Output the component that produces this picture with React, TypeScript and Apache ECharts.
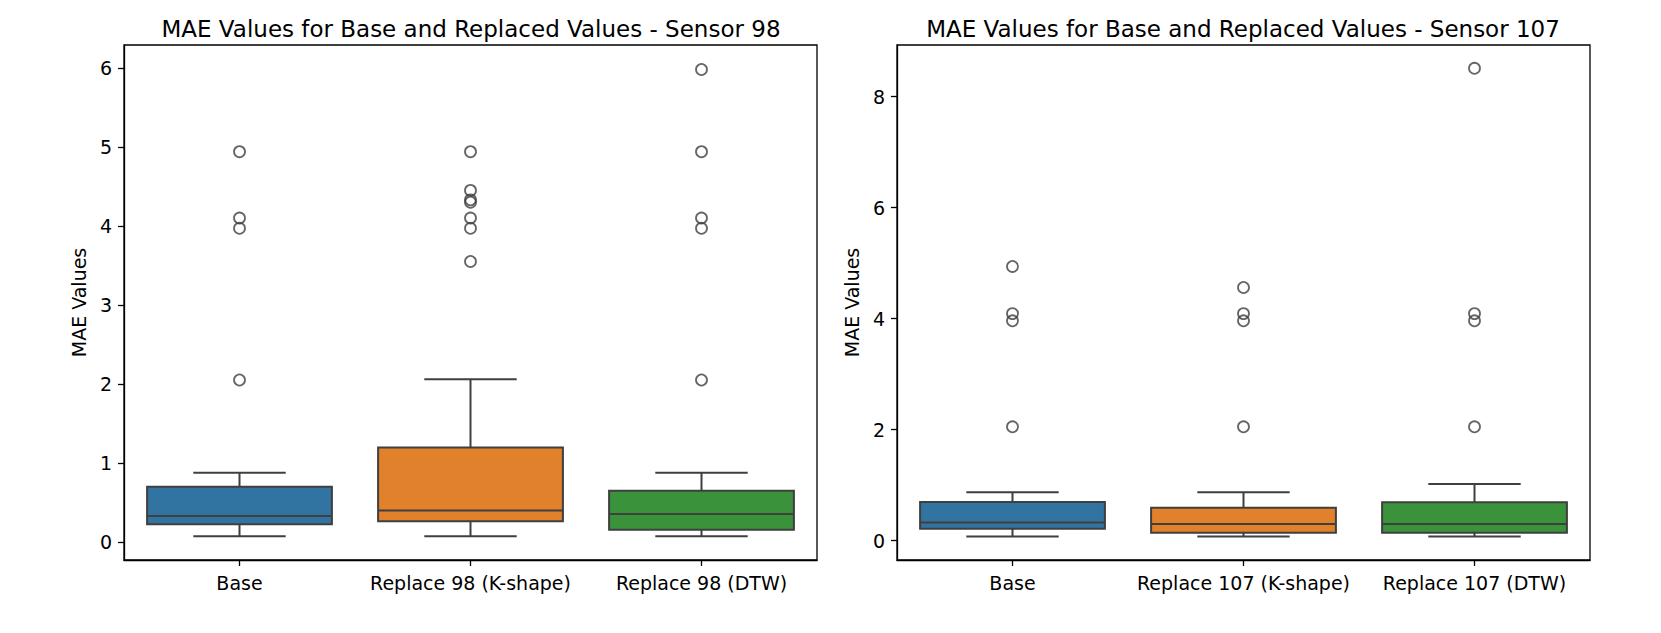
import React, { useEffect, useRef } from "react";
import * as echarts from "echarts";

// ---- data ----
const categories98 = ["Base", "Replace 98 (K-shape)", "Replace 98 (DTW)"];
const categories107 = ["Base", "Replace 107 (K-shape)", "Replace 107 (DTW)"];

// [min whisker, Q1, median, Q3, max whisker]
const base98Box = [0.072, 0.225, 0.33, 0.70, 0.875];
const kshape98Box = [0.072, 0.261, 0.40, 1.197, 2.06];
const dtw98Box = [0.072, 0.156, 0.354, 0.649, 0.877];

const base107Box = [0.072, 0.215, 0.325, 0.695, 0.872];
const kshape107Box = [0.072, 0.14, 0.30, 0.59, 0.872];
const dtw107Box = [0.072, 0.14, 0.30, 0.69, 1.02];

const base98Outliers = [4.94, 4.10, 3.97, 2.05];
const kshape98Outliers = [4.94, 4.45, 4.33, 4.30, 4.10, 3.97, 3.55];
const dtw98Outliers = [5.98, 4.94, 4.10, 3.97, 2.05];

const base107Outliers = [4.94, 4.09, 3.96, 2.05];
const kshape107Outliers = [4.56, 4.09, 3.96, 2.05];
const dtw107Outliers = [8.51, 4.09, 3.96, 2.05];

const yTicks98 = [0, 1, 2, 3, 4, 5, 6];
const yTicks107 = [0, 2, 4, 6, 8];

const title98 = "MAE Values for Base and Replaced Values - Sensor 98";
const title107 = "MAE Values for Base and Replaced Values - Sensor 107";
const yName = "MAE Values";

// ---- styles ----
const boxColors = ["#3274a1", "#e1812c", "#3a923a"];
const lineColor = "#3f3f3f";
const LW = 2;
const FONT = "DejaVu Sans";

const boxRows = (boxes: number[][]) => boxes.map((b, i) => [i, ...b]);
const outlierRows = (lists: number[][]) => {
  const rows: number[][] = [];
  lists.forEach((l, i) => l.forEach((v) => rows.push([i, v])));
  return rows;
};

const renderBox = (params: any, api: any) => {
  const cat = api.value(0);
  const lo = api.coord([cat, api.value(1)]);
  const q1 = api.coord([cat, api.value(2)]);
  const med = api.coord([cat, api.value(3)]);
  const q3 = api.coord([cat, api.value(4)]);
  const hi = api.coord([cat, api.value(5)]);
  const band = api.size([1, 0])[0];
  const bw = band * 0.8;
  const cw = bw * 0.5;
  const cx = lo[0];
  const ls = { stroke: lineColor, lineWidth: LW };
  return {
    type: "group",
    children: [
      { type: "line", shape: { x1: cx, y1: hi[1], x2: cx, y2: q3[1] }, style: ls },
      { type: "line", shape: { x1: cx, y1: q1[1], x2: cx, y2: lo[1] }, style: ls },
      { type: "line", shape: { x1: cx - cw / 2, y1: hi[1], x2: cx + cw / 2, y2: hi[1] }, style: ls },
      { type: "line", shape: { x1: cx - cw / 2, y1: lo[1], x2: cx + cw / 2, y2: lo[1] }, style: ls },
      {
        type: "rect",
        shape: { x: cx - bw / 2, y: q3[1], width: bw, height: q1[1] - q3[1] },
        style: { fill: boxColors[cat], stroke: lineColor, lineWidth: LW },
      },
      { type: "line", shape: { x1: cx - bw / 2, y1: med[1], x2: cx + bw / 2, y2: med[1] }, style: ls },
    ],
  };
};

const makeYAxis = (gridIndex: number, min: number, max: number, ticks: number[]) => ({
  type: "value",
  gridIndex,
  min,
  max,
  name: yName,
  nameLocation: "middle",
  nameRotate: 90,
  nameGap: 36,
  nameTextStyle: { fontFamily: FONT, fontSize: 19, color: "#000" },
  splitLine: { show: false },
  axisLine: { show: true, onZero: false, lineStyle: { color: "#000", width: 1.3 } },
  axisTick: { show: true, length: 6, customValues: ticks, lineStyle: { color: "#000", width: 1.3 } },
  axisLabel: { customValues: ticks, fontFamily: FONT, fontSize: 19, color: "#000", margin: 12 },
});

const makeXAxis = (gridIndex: number, cats: string[]) => ({
  type: "category",
  gridIndex,
  data: cats,
  boundaryGap: true,
  axisLine: { show: true, onZero: false, lineStyle: { color: "#000", width: 1.3 } },
  axisTick: { show: true, alignWithLabel: true, length: 6, lineStyle: { color: "#000", width: 1.3 } },
  axisLabel: { fontFamily: FONT, fontSize: 19, color: "#000", margin: 13, interval: 0 },
  splitLine: { show: false },
});

export default function App() {
  const ref = useRef<HTMLDivElement>(null);
  useEffect(() => {
    if (!ref.current) return;
    const chart = echarts.init(ref.current, null, { renderer: "svg" });
    const outlierStyle = {
      color: "rgba(255,255,255,0)",
      borderColor: lineColor,
      borderWidth: 1.8,
    };
    chart.setOption({
      animation: false,
      backgroundColor: "#fff",
      title: [
        {
          text: title98,
          left: 466,
          top: 12,
          textAlign: "center",
          textStyle: { fontFamily: FONT, fontSize: 23, fontWeight: "normal", color: "#000" },
        },
        {
          text: title107,
          left: 1238,
          top: 12,
          textAlign: "center",
          textStyle: { fontFamily: FONT, fontSize: 23, fontWeight: "normal", color: "#000" },
        },
      ],
      grid: [
        { left: 124, top: 45, width: 693, height: 515, show: true, borderColor: "#000", borderWidth: 1.3, backgroundColor: "transparent" },
        { left: 897, top: 45, width: 693, height: 515, show: true, borderColor: "#000", borderWidth: 1.3, backgroundColor: "transparent" },
      ],
      xAxis: [makeXAxis(0, categories98), makeXAxis(1, categories107)],
      yAxis: [makeYAxis(0, -0.228, 6.29, yTicks98), makeYAxis(1, -0.35, 8.93, yTicks107)],
      series: [
        {
          type: "custom",
          xAxisIndex: 0,
          yAxisIndex: 0,
          renderItem: renderBox,
          encode: { x: 0, y: [1, 2, 3, 4, 5] },
          data: boxRows([base98Box, kshape98Box, dtw98Box]),
          z: 2,
        },
        {
          type: "scatter",
          xAxisIndex: 0,
          yAxisIndex: 0,
          symbol: "circle",
          symbolSize: 11,
          itemStyle: outlierStyle,
          data: outlierRows([base98Outliers, kshape98Outliers, dtw98Outliers]),
          z: 3,
        },
        {
          type: "custom",
          xAxisIndex: 1,
          yAxisIndex: 1,
          renderItem: renderBox,
          encode: { x: 0, y: [1, 2, 3, 4, 5] },
          data: boxRows([base107Box, kshape107Box, dtw107Box]),
          z: 2,
        },
        {
          type: "scatter",
          xAxisIndex: 1,
          yAxisIndex: 1,
          symbol: "circle",
          symbolSize: 11,
          itemStyle: outlierStyle,
          data: outlierRows([base107Outliers, kshape107Outliers, dtw107Outliers]),
          z: 3,
        },
      ],
    });
    return () => chart.dispose();
  }, []);
  return (
    <div
      ref={ref}
      style={{ position: "fixed", left: 0, top: 0, width: 1661, height: 633, background: "#fff" }}
    />
  );
}
